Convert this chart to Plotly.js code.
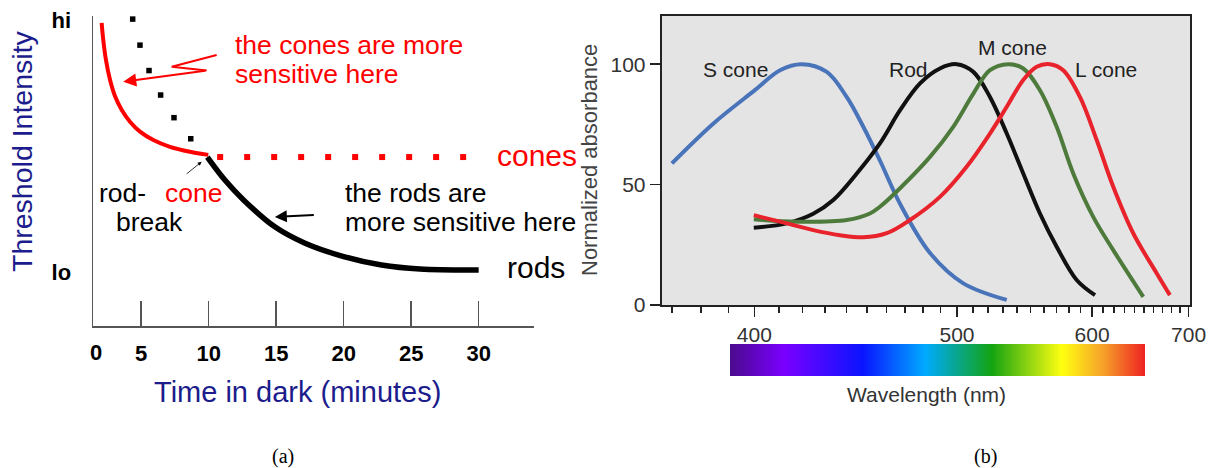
<!DOCTYPE html>
<html><head><meta charset="utf-8">
<script src="https://cdn.plot.ly/plotly-3.0.1.min.js"></script>
<style>html,body{margin:0;padding:0;background:#fff}#chart{width:1215px;height:468px}</style>
</head><body><div id="chart"></div>
<script>
// ---------- Panel (a): dark adaptation ----------
const coneTime   = [2.07, 2.19, 2.39, 2.69, 3.07, 3.56, 4.17, 4.91, 5.90, 7.13, 8.61, 9.97];
const coneThresh = [97.8, 92.3, 85.8, 79.4, 74.0, 69.7, 65.9, 62.7, 60.0, 57.8, 56.2, 55.2];
const rodTime    = [9.9, 11.2, 12.6, 14.9, 17.1, 20.0, 22.8, 25.65, 30];
const rodThresh  = [54.5, 47.1, 40.6, 32.0, 26.8, 22.4, 19.7, 18.4, 18.1];
const rodOnlyTime   = [4.37, 4.91, 5.58, 6.44, 7.43, 8.67];
const rodOnlyThresh = [99.0, 90.6, 82.4, 74.5, 67.2, 60.4];
const conePlateauTime   = [10.85, 12.85, 14.85, 16.85, 18.85, 20.85, 22.85, 24.85, 26.85, 28.85];
const conePlateauThresh = [54.5, 54.5, 54.5, 54.5, 54.5, 54.5, 54.5, 54.5, 54.5, 54.5];
const timeTicks  = [5, 10, 15, 20, 25, 30];
const timeLabels = ['5', '10', '15', '20', '25', '30'];
const threshTicks  = [98.7, 17.4];
const threshLabels = ['hi', 'lo'];
// annotation arrows in panel (a)
const zigzagTime   = [10.59, 7.26, 9.85];
const zigzagThresh = [87.4, 83.6, 82.4];

// ---------- Panel (b): absorbance spectra ----------
const sConeNm  = [369.9, 384.5, 400.2, 410.4, 419.6, 430.8, 440.1, 448.2, 456.6, 467.2, 483.9, 503.7, 532.7];
const sConeAbs = [58.8, 75.4, 89.2, 97.5, 100, 96.8, 86.4, 74.0, 60.0, 42.0, 21.6, 9.1, 2.1];
const rodNm    = [399.8, 413.2, 424.7, 433.8, 445.0, 456.6, 467.2, 478.2, 489.7, 499.8, 510.3, 521.2, 532.7, 544.5, 557.0, 570.1, 586.6, 602.6];
const rodAbs   = [32.1, 33.9, 37.9, 43.6, 54.6, 67.1, 80.9, 92.0, 98.2, 100, 96.8, 86.4, 71.2, 54.6, 38.0, 24.2, 10.4, 4.1];
const mConeNm  = [399.8, 417.5, 440.1, 451.5, 456.6, 467.2, 483.9, 497.7, 510.3, 521.2, 533.8, 544.5, 557.0, 570.1, 583.7, 601.0, 619.4, 649.2];
const mConeAbs = [35.6, 34.6, 35.3, 38.0, 40.8, 48.5, 61.5, 74.0, 87.8, 97.5, 100, 98.2, 89.2, 74.0, 54.6, 36.6, 22.8, 3.4];
const lConeNm  = [399.8, 410.4, 424.7, 436.9, 448.2, 460.1, 472.6, 489.7, 506.0, 521.2, 532.7, 544.5, 554.5, 564.8, 575.4, 589.4, 604.1, 619.4, 638.9, 663.4, 678.1];
const lConeAbs = [37.3, 34.6, 31.1, 29.0, 28.1, 29.8, 35.3, 44.9, 57.4, 71.2, 82.3, 93.4, 98.9, 100, 97.5, 86.4, 68.5, 49.1, 29.8, 13.2, 4.1];
const nmTicks  = [400, 500, 600, 700];
const nmLabels = ['400', '500', '600', '700'];
const nmMinor  = [370, 380, 390, 410, 420, 430, 440, 450, 460, 470, 480, 490, 510, 520, 530, 540, 550, 560, 570, 580, 590, 610, 620, 630, 640, 650, 660, 670, 680, 690];
const absTicks = [0, 50, 100];
const absLabels = ['0', '50', '100'];
const nmRange  = [366.5, 701.7];
const spectrumStops  = [0, 0.13, 0.32, 0.47, 0.63, 0.80, 0.90, 1];
const spectrumColors = ['#4b0a8c', '#7a00ff', '#0a14ff', '#00aaff', '#13a313', '#ffff10', '#f6a02a', '#ee2222'];

// wavelength axis is linear in wavenumber
const wn = nm => -1e4 / nm;

// ---------- helpers for placing text (pixel -> paper) ----------
const W = 1215, H = 468;
const px = x => x / W;
const py = y => 1 - y / H;

const SANS = 'Liberation Sans, Arial, sans-serif';
const NAVY = '#1c1c8c';

const traces = [
  {x: coneTime, y: coneThresh, mode: 'lines', line: {color: '#ff0000', width: 4, shape: 'spline'}, xaxis: 'x', yaxis: 'y', hoverinfo: 'skip'},
  {x: rodTime, y: rodThresh, mode: 'lines', line: {color: '#000', width: 5.5, shape: 'spline'}, xaxis: 'x', yaxis: 'y', hoverinfo: 'skip'},
  {x: rodOnlyTime, y: rodOnlyThresh, mode: 'markers', marker: {symbol: 'square', size: 5.5, color: '#000'}, xaxis: 'x', yaxis: 'y', hoverinfo: 'skip'},
  {x: conePlateauTime, y: conePlateauThresh, mode: 'markers', marker: {symbol: 'square', size: 6, color: '#ff0000'}, xaxis: 'x', yaxis: 'y', hoverinfo: 'skip'},
  {x: zigzagTime, y: zigzagThresh, mode: 'lines', line: {color: '#ff0000', width: 2}, xaxis: 'x', yaxis: 'y', hoverinfo: 'skip'},

  {x: sConeNm.map(wn), y: sConeAbs, mode: 'lines', line: {color: '#4a74ba', width: 4, shape: 'spline'}, xaxis: 'x2', yaxis: 'y2', hoverinfo: 'skip'},
  {x: rodNm.map(wn), y: rodAbs, mode: 'lines', line: {color: '#111', width: 4, shape: 'spline'}, xaxis: 'x2', yaxis: 'y2', hoverinfo: 'skip'},
  {x: mConeNm.map(wn), y: mConeAbs, mode: 'lines', line: {color: '#4e7b3c', width: 4, shape: 'spline'}, xaxis: 'x2', yaxis: 'y2', hoverinfo: 'skip'},
  {x: lConeNm.map(wn), y: lConeAbs, mode: 'lines', line: {color: '#e8232b', width: 4, shape: 'spline'}, xaxis: 'x2', yaxis: 'y2', hoverinfo: 'skip'},

  {x: [0, 1, 1, 0, 0], y: [0, 0, 1, 1, 0], mode: 'lines', fill: 'toself', line: {width: 0},
   fillgradient: {type: 'horizontal', colorscale: spectrumStops.map((s, i) => [s, spectrumColors[i]])},
   xaxis: 'x3', yaxis: 'y3', hoverinfo: 'skip'}
];

function txt(text, x, y, size, color, opts) {
  return Object.assign({text: text, x: px(x), y: py(y), xref: 'paper', yref: 'paper', showarrow: false,
    xanchor: 'center', yanchor: 'middle', font: {family: SANS, size: size, color: color}}, opts || {});
}
function arrow(x, y, ax, ay, color, width, head, size) {
  return {x: x, y: y, ax: ax, ay: ay, xref: 'x', yref: 'y', axref: 'x', ayref: 'y', text: '', showarrow: true,
    arrowcolor: color, arrowwidth: width, arrowhead: head, arrowsize: size};
}

const annotations = [
  txt('Threshold Intensity', 22, 151, 28.5, NAVY, {textangle: -90}),
  txt('Time in dark (minutes)', 297, 392, 29, NAVY),
  txt('0', 96, 352, 22, '#000', {font: {family: SANS, size: 22, color: '#000', weight: 700}}),
  txt('the cones are more', 233, 45, 26.5, '#ff0000', {xanchor: 'left'}),
  txt('sensitive here', 233, 74, 26.5, '#ff0000', {xanchor: 'left'}),
  txt('rod-', 97, 193, 26.5, '#000', {xanchor: 'left'}),
  txt('cone', 163, 193, 26.5, '#ff0000', {xanchor: 'left'}),
  txt('break', 149, 222, 26.5, '#000'),
  txt('the rods are', 343, 193, 26.5, '#000', {xanchor: 'left'}),
  txt('more sensitive here', 343, 222, 26.5, '#000', {xanchor: 'left'}),
  txt('cones', 495, 156, 30, '#ff0000', {xanchor: 'left'}),
  txt('rods', 505, 267, 30, '#000', {xanchor: 'left'}),
  arrow(3.67, 78.8, 9.85, 82.4, '#ff0000', 2, 2, 1.3),
  arrow(9.48, 53.0, 8.26, 48.7, '#000', 0.8, 2, 1),
  arrow(14.9, 35.2, 17.9, 35.8, '#000', 2, 2, 1.2),

  txt('S cone', 735, 69, 21, '#222'),
  txt('Rod', 908, 69, 21, '#222'),
  txt('M cone', 1012, 48, 21, '#222'),
  txt('L cone', 1106, 69, 21, '#222'),
  txt('Normalized absorbance', 589, 160, 22, '#444', {textangle: -90}),
  txt('Wavelength (nm)', 926, 394, 21, '#333'),

  txt('(a)', 283, 456, 20, '#000', {font: {family: 'Liberation Serif, Times New Roman, serif', size: 20, color: '#000'}}),
  txt('(b)', 985, 456, 20, '#000', {font: {family: 'Liberation Serif, Times New Roman, serif', size: 20, color: '#000'}})
];

const layout = {
  width: W, height: H, margin: {l: 0, r: 0, t: 0, b: 0},
  paper_bgcolor: '#fff', plot_bgcolor: 'rgba(0,0,0,0)', showlegend: false,
  font: {family: SANS},
  xaxis: {domain: [px(93), px(534)], range: [1.43, 34.1], anchor: 'y',
    showline: true, linecolor: '#555', linewidth: 1.5, showgrid: false, zeroline: false,
    tickmode: 'array', tickvals: timeTicks, ticktext: timeLabels, ticks: 'inside', ticklen: 25, tickwidth: 1.5, tickcolor: '#555',
    tickfont: {family: SANS, size: 22, color: '#000', weight: 700}, ticklabelstandoff: 7},
  yaxis: {domain: [py(326), py(16)], range: [0, 100], anchor: 'x',
    showline: true, linecolor: '#555', linewidth: 1.5, showgrid: false, zeroline: false,
    tickmode: 'array', tickvals: threshTicks, ticktext: threshLabels, ticks: '',
    tickfont: {family: SANS, size: 22, color: '#000', weight: 700}, ticklabelstandoff: 16},
  xaxis2: {domain: [px(661.7), px(1190)], range: [wn(nmRange[0]), wn(nmRange[1])], anchor: 'y2',
    showline: true, linecolor: '#222', linewidth: 2, mirror: true, showgrid: false, zeroline: false,
    tickmode: 'array', tickvals: nmTicks.map(wn), ticktext: nmLabels, ticks: 'outside', ticklen: 10, tickwidth: 1.5, tickcolor: '#222',
    tickfont: {family: SANS, size: 21, color: '#333'},
    minor: {tickmode: 'array', tickvals: nmMinor.map(wn), ticks: 'outside', ticklen: 6, tickwidth: 1.5, tickcolor: '#222', showgrid: false}},
  yaxis2: {domain: [py(305), py(16)], range: [0, 120], anchor: 'x2',
    showline: true, linecolor: '#222', linewidth: 2, mirror: true, showgrid: false, zeroline: false,
    tickmode: 'array', tickvals: absTicks, ticktext: absLabels, ticks: 'outside', ticklen: 10, tickwidth: 1.5, tickcolor: '#222',
    tickfont: {family: SANS, size: 21, color: '#333'}},
  xaxis3: {domain: [px(730), px(1145)], range: [0, 1], anchor: 'y3', visible: false, fixedrange: true},
  yaxis3: {domain: [py(376), py(344)], range: [0, 1], anchor: 'x3', visible: false, fixedrange: true},
  shapes: [{type: 'rect', xref: 'x2 domain', yref: 'y2 domain', x0: 0, x1: 1, y0: 0, y1: 1,
    fillcolor: '#e4e4e4', line: {width: 0}, layer: 'below'}],
  annotations: annotations
};

Plotly.newPlot('chart', traces, layout, {displayModeBar: false, staticPlot: true});
</script>
</body></html>
